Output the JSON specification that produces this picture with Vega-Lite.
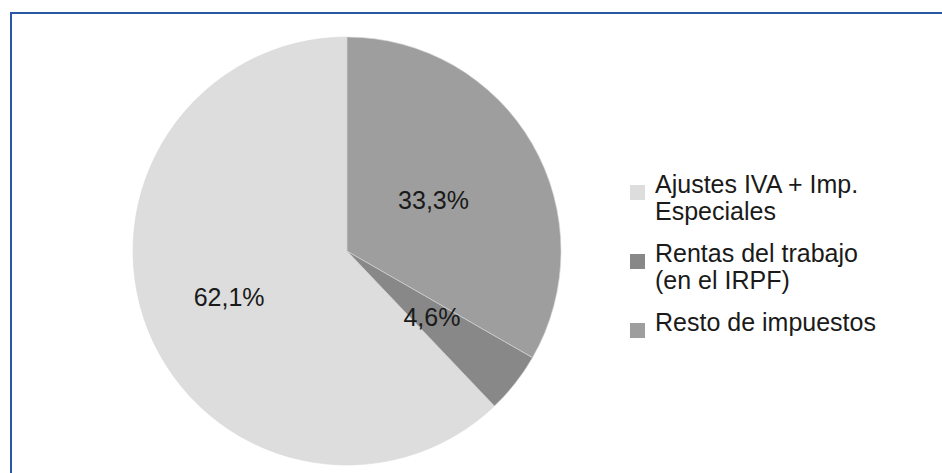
{
  "$schema": "https://vega.github.io/schema/vega-lite/v6.json",
  "autosize": "none",
  "width": 940,
  "height": 470,
  "padding": {"left": 11, "top": 13, "right": 0, "bottom": 0},
  "background": "white",
  "config": {
    "view": {"stroke": null},
    "locale": {"number": {"decimal": ",", "thousands": ".", "grouping": [3], "currency": ["", " €"]}},
    "font": "Liberation Sans"
  },
  "data": {
    "values": [
      {"cat": "Ajustes IVA + Imp. Especiales", "share": 0.621},
      {"cat": "Rentas del trabajo (en el IRPF)", "share": 0.046},
      {"cat": "Resto de impuestos", "share": 0.333}
    ]
  },
  "layer": [
    {
      "data": {"values": [{"frame": 1}]},
      "mark": {"type": "rect", "fill": "transparent", "stroke": "#2a58a4", "strokeWidth": 2},
      "encoding": {}
    },
    {
      "mark": {"type": "arc", "outerRadius": 214, "xOffset": -134, "yOffset": 3, "stroke": "#d8d8d8", "strokeWidth": 0.6},
      "encoding": {
        "theta": {"field": "share", "type": "quantitative", "stack": true},
        "order": {"field": "cat", "sort": "descending"},
        "color": {
          "field": "cat",
          "type": "nominal",
          "scale": {
            "domain": ["Ajustes IVA + Imp. Especiales", "Rentas del trabajo (en el IRPF)", "Resto de impuestos"],
            "range": ["#dddddd", "#888888", "#9e9e9e"]
          },
          "legend": {
            "title": null,
            "orient": "none",
            "legendX": 614,
            "legendY": 167,
            "symbolType": "square",
            "symbolSize": 225,
            "symbolStrokeWidth": 0,
            "labelFont": "Liberation Sans",
            "labelFontSize": 25,
            "labelColor": "#1a1a1a",
            "labelLimit": 400,
            "labelOffset": 5,
            "rowPadding": 16,
            "labelBaseline": "alphabetic",
            "labelExpr": "datum.label == 'Ajustes IVA + Imp. Especiales' ? ['Ajustes IVA + Imp.', 'Especiales'] : datum.label == 'Rentas del trabajo (en el IRPF)' ? ['Rentas del trabajo', '(en el IRPF)'] : datum.label"
          }
        }
      }
    },
    {
      "mark": {
        "type": "text",
        "xOffset": -134,
        "yOffset": 3,
        "font": "Liberation Sans",
        "fontSize": 25,
        "color": "#1a1a1a",
        "radius": {"expr": "datum.cat == 'Resto de impuestos' ? 100 : datum.cat == 'Rentas del trabajo (en el IRPF)' ? 108 : 127"}
      },
      "encoding": {
        "theta": {"field": "share", "type": "quantitative", "stack": true},
        "order": {"field": "cat", "sort": "descending"},
        "text": {"field": "share", "type": "quantitative", "format": ".1%"}
      }
    }
  ]
}
